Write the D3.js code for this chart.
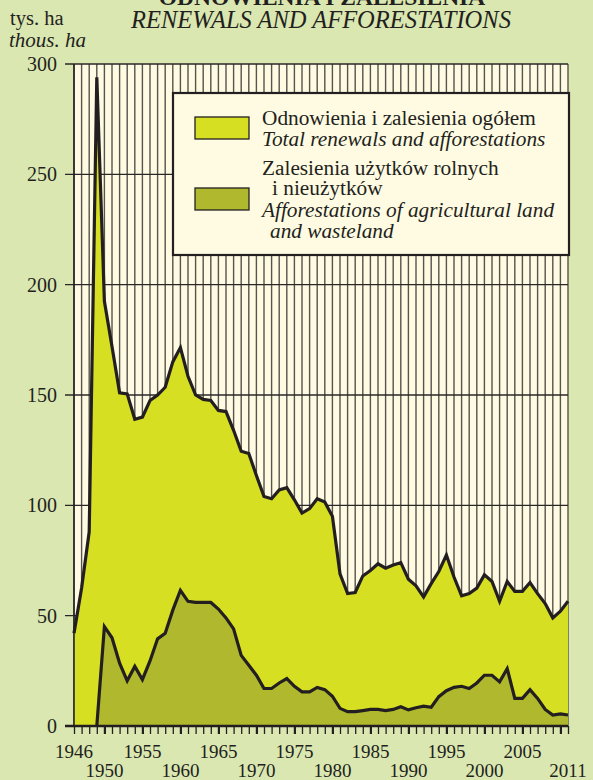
<!DOCTYPE html>
<html>
<head>
<meta charset="utf-8">
<script src="https://cdn.jsdelivr.net/npm/d3@7"></script>
<style>
  html, body { margin: 0; padding: 0; background: #dae7b1; }
  svg { display: block; }
  svg text { font-family: 'Liberation Serif', 'DejaVu Serif', Tinos, Times, serif; fill: #231f20; }
</style>
</head>
<body>
<svg id="chart" width="593" height="780"></svg>
<script>
// data (thous. ha)
const years = [1946, 1947, 1948, 1949, 1950, 1951, 1952, 1953, 1954, 1955,
  1956, 1957, 1958, 1959, 1960, 1961, 1962, 1963, 1964, 1965,
  1966, 1967, 1968, 1969, 1970, 1971, 1972, 1973, 1974, 1975,
  1976, 1977, 1978, 1979, 1980, 1981, 1982, 1983, 1984, 1985,
  1986, 1987, 1988, 1989, 1990, 1991, 1992, 1993, 1994, 1995,
  1996, 1997, 1998, 1999, 2000, 2001, 2002, 2003, 2004, 2005,
  2006, 2007, 2008, 2009, 2010, 2011];

const totalRenewals = [42, 62.5, 88, 294, 192.5, 172, 151, 150.5, 139, 140,
  147.5, 150, 153.5, 165, 171.5, 158.5, 150, 148, 147.5, 143,
  142.5, 134, 124.5, 123.5, 113.5, 104, 103, 107, 108, 102.5,
  96.5, 98.5, 103, 101.5, 95, 69, 60, 60.5, 68, 70.5,
  73.5, 71.5, 73, 74, 66.5, 63.5, 58.5, 64.5, 70, 77.5,
  67.5, 59, 60, 62.5, 68.5, 65.5, 56.5, 65.5, 61, 61,
  65, 60, 55.5, 49, 52, 56.5];

const agriLand = [null, null, null, 0, 45, 40, 28.5, 20.5, 27, 21,
  29.5, 39.5, 42, 52.5, 61.5, 56.5, 56, 56, 56, 53,
  49, 44, 32, 27.5, 23, 17, 17, 19.5, 21.5, 18,
  15.5, 15.5, 17.5, 16.5, 13.5, 8, 6.5, 6.5, 7, 7.5,
  7.5, 7, 7.5, 8.7, 7.3, 8.3, 9, 8.5, 13.3, 16,
  17.5, 18, 17, 19.5, 23, 23, 20, 26, 12.5, 12.5,
  16.5, 12.5, 7.5, 5, 5.5, 5];

const yTicks = [0, 50, 100, 150, 200, 250, 300];
const xLabelsTop = [1946, 1955, 1965, 1975, 1985, 1995, 2005];
const xLabelsBottom = [1950, 1960, 1970, 1980, 1990, 2000, 2011];

const legendItems = [
  { color: '#d7df22', lines: [['Odnowienia i zalesienia ogółem', false, 0], ['Total renewals and afforestations', true, 0]] },
  { color: '#b0b82e', lines: [['Zalesienia użytków rolnych', false, 0], ['i nieużytków', false, 10], ['Afforestations of agricultural land', true, 0], ['and wasteland', true, 8]] }
];

const FONT = "'Liberation Serif', 'DejaVu Serif', serif";

const svg = d3.select('#chart');
const x = d3.scaleLinear().domain([1946, 2011]).range([74, 568]);
const y = d3.scaleLinear().domain([0, 300]).range([726, 64]);

const rows = years.map((yr, i) => ({ year: yr, total: totalRenewals[i], agri: agriLand[i] }));

function label(sel, size, italic, bold) {
  return sel.attr('font-family', FONT).attr('font-size', size)
    .attr('font-style', italic ? 'italic' : 'normal')
    .attr('font-weight', bold ? 'bold' : 'normal');
}

// titles
label(svg.append('text'), 23.5, false, true).attr('x', 322).attr('y', 5)
  .attr('text-anchor', 'middle').text('ODNOWIENIA I ZALESIENIA');
label(svg.append('text'), 24.5, true).attr('x', 321).attr('y', 28)
  .attr('text-anchor', 'middle').text('RENEWALS AND AFFORESTATIONS');
label(svg.append('text'), 20.5).attr('x', 10).attr('y', 25).text('tys. ha');
label(svg.append('text'), 21, true).attr('x', 9).attr('y', 47).text('thous. ha');

// plot background
svg.append('rect').attr('x', x(1946)).attr('y', y(300))
  .attr('width', x(2011) - x(1946)).attr('height', y(0) - y(300)).attr('fill', '#fefbe2');

// vertical grid, one per year
svg.append('g').selectAll('line').data(years).join('line')
  .attr('x1', d => x(d)).attr('x2', d => x(d))
  .attr('y1', y(300)).attr('y2', y(0))
  .attr('stroke', '#57534d').attr('stroke-width', 1.4);

// horizontal grid + tick stubs on the left
svg.append('g').selectAll('line').data(yTicks).join('line')
  .attr('x1', 65).attr('x2', x(2011))
  .attr('y1', d => y(d)).attr('y2', d => y(d))
  .attr('stroke', '#2b2728').attr('stroke-width', 1.3);

label(svg.append('g').selectAll('text').data(yTicks).join('text'), 20)
  .attr('x', 57).attr('y', d => y(d) + 7).attr('text-anchor', 'end').text(d => d);

// areas
const totalArea = d3.area().x(d => x(d.year)).y0(y(0)).y1(d => y(d.total));
const agriArea = d3.area().defined(d => d.agri != null).x(d => x(d.year)).y0(y(0)).y1(d => y(d.agri));
svg.append('path').datum(rows).attr('d', totalArea).attr('fill', '#d7df22');
svg.append('path').datum(rows).attr('d', agriArea).attr('fill', '#b0b82e');

const totalLine = d3.line().x(d => x(d.year)).y(d => y(d.total));
const agriLine = d3.line().defined(d => d.agri != null).x(d => x(d.year)).y(d => y(d.agri));
[totalLine, agriLine].forEach(fn => {
  svg.append('path').datum(rows).attr('d', fn)
    .attr('fill', 'none').attr('stroke', '#231f20').attr('stroke-width', 3.2)
    .attr('stroke-linejoin', 'miter').attr('stroke-miterlimit', 12);
});

// left border and x axis
svg.append('line').attr('x1', x(1946)).attr('x2', x(1946)).attr('y1', y(300)).attr('y2', y(0))
  .attr('stroke', '#231f20').attr('stroke-width', 1.5);

const xAxis = d3.axisBottom(x).tickValues(years).tickSize(8).tickFormat('');
const gx = svg.append('g').attr('transform', `translate(0,${y(0)})`).call(xAxis);
gx.select('.domain').attr('stroke', '#231f20').attr('stroke-width', 2.5).attr('d', `M65,0H${x(2011)}`);
gx.selectAll('.tick line').attr('stroke', '#231f20')
  .attr('stroke-width', d => (d % 5 === 0 ? 2.2 : 1.3));

label(svg.append('g').selectAll('text').data(xLabelsTop).join('text'), 19)
  .attr('x', d => x(d)).attr('y', 758).attr('text-anchor', 'middle').text(d => d);
label(svg.append('g').selectAll('text').data(xLabelsBottom).join('text'), 19)
  .attr('x', d => x(d)).attr('y', 777).attr('text-anchor', 'middle').text(d => d);

// legend
const lg = svg.append('g');
lg.append('rect').attr('x', 173).attr('y', 93).attr('width', 396).attr('height', 162)
  .attr('fill', '#fefbe2').attr('stroke', '#231f20').attr('stroke-width', 2.2);
const swatchY = [117, 188];
const textY = [[125, 146], [175, 195, 217, 238]];
legendItems.forEach((item, i) => {
  lg.append('rect').attr('x', 195).attr('y', swatchY[i]).attr('width', 54).attr('height', 22)
    .attr('fill', item.color).attr('stroke', '#231f20').attr('stroke-width', 1.3);
  item.lines.forEach(([txt, italic, dx], j) => {
    label(lg.append('text'), 21.3, italic).attr('x', 262 + dx).attr('y', textY[i][j]).text(txt);
  });
});
</script>
</body>
</html>
